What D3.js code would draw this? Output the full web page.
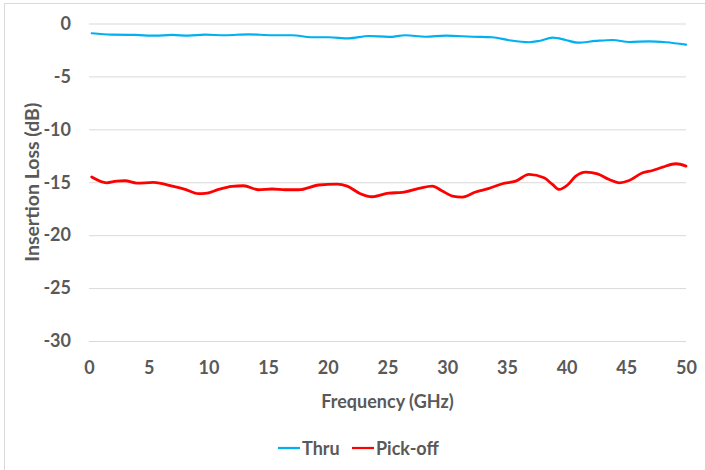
<!DOCTYPE html>
<html>
<head>
<meta charset="utf-8">
<script src="https://cdn.jsdelivr.net/npm/d3@7"></script>
<style>
  html, body { margin: 0; padding: 0; background: #fff; }
  svg { display: block; font-family: Lato, "Open Sans", sans-serif; font-weight: 700; }
</style>
</head>
<body>
<svg id="chart" width="705" height="470"></svg>
<script>
// Insertion loss vs frequency for the through path and the pick-off port
const thruFreq = [0.23, 1.9, 3.86, 5.54, 6.94, 8.33, 9.73, 11.41, 13.36, 15.33, 17.0, 18.68, 20.08, 21.75,
  23.43, 25.11, 26.51, 28.19, 29.87, 32.1, 33.78, 35.18, 36.85, 37.69, 38.82, 39.93, 40.91, 42.45,
  43.85, 45.24, 46.92, 48.32, 50.0];
const thruLoss = [-0.92, -1.06, -1.08, -1.15, -1.08, -1.15, -1.06, -1.11, -1.02, -1.11, -1.11, -1.30, -1.30, -1.40,
  -1.18, -1.27, -1.11, -1.25, -1.15, -1.25, -1.30, -1.58, -1.77, -1.65, -1.34, -1.56, -1.81, -1.65,
  -1.56, -1.75, -1.68, -1.77, -2.0];

const pickFreq = [0.23, 1.48, 2.32, 3.02, 4.0, 5.39, 7.07, 8.05, 9.17, 9.73, 10.85, 11.97, 12.94, 14.2,
  15.33, 16.44, 17.56, 19.24, 20.78, 21.62, 22.73, 23.72, 25.11, 26.23, 27.63, 28.75, 29.59, 30.43,
  31.27, 32.38, 33.5, 34.62, 35.74, 36.85, 38.11, 38.82, 39.37, 40.08, 40.77, 41.61, 42.59, 43.57,
  44.4, 45.24, 46.37, 47.2, 48.04, 49.16, 50.0];
const pickLoss = [-14.51, -15.05, -14.89, -14.86, -15.08, -15.02, -15.40, -15.68, -16.08, -16.06, -15.68, -15.40, -15.33, -15.71,
  -15.64, -15.71, -15.71, -15.26, -15.17, -15.36, -16.08, -16.37, -16.02, -15.96, -15.58, -15.36, -15.83, -16.30,
  -16.40, -15.92, -15.58, -15.14, -14.89, -14.26, -14.58, -15.21, -15.68, -15.26, -14.42, -14.04, -14.20, -14.74,
  -15.05, -14.83, -14.10, -13.89, -13.57, -13.25, -13.47];

const xTicks = [0, 5, 10, 15, 20, 25, 30, 35, 40, 45, 50];
const yTicks = [0, -5, -10, -15, -20, -25, -30];

const seriesNames = ["Thru", "Pick-off"];
const seriesColors = ["#00B0F0", "#FF0000"];

const svg = d3.select("#chart");
const W = 705, H = 470;
const plot = { left: 89, right: 686, top: 23.5, bottom: 341 };
const textColor = "#595959";
const tickFmt = d => String(d); // plain hyphen-minus

// outer chart frame (top and left edges)
svg.append("path")
  .attr("d", `M4.5,${H} V3.5 H${W}`)
  .attr("fill", "none").attr("stroke", "#D9D9D9").attr("stroke-width", 1);

const x = d3.scaleLinear().domain([0, 50]).range([plot.left, plot.right]);
const y = d3.scaleLinear().domain([-30, 0]).range([plot.bottom, plot.top]);

// horizontal gridlines + y tick labels
const yAxis = d3.axisLeft(y).tickValues(yTicks).tickSize(-(plot.right - plot.left)).tickPadding(18).tickFormat(tickFmt);
const gy = svg.append("g").attr("transform", `translate(${plot.left},0)`).call(yAxis);
gy.select(".domain").remove();
gy.selectAll(".tick line").attr("stroke", "#D9D9D9").attr("stroke-width", 1);
gy.selectAll(".tick text").attr("fill", textColor).style("font-size", "18px")
  .style("font-family", "Lato, sans-serif").style("font-weight", 700);

// x tick labels (no axis line)
const xAxis = d3.axisBottom(x).tickValues(xTicks).tickSize(0).tickPadding(20).tickFormat(tickFmt);
const gx = svg.append("g").attr("transform", `translate(0,${plot.bottom})`).call(xAxis);
gx.select(".domain").remove();
gx.selectAll(".tick text").attr("fill", textColor).style("font-size", "18px")
  .style("font-family", "Lato, sans-serif").style("font-weight", 700);

// axis titles
svg.append("text")
  .attr("x", (plot.left + plot.right) / 2).attr("y", 408)
  .attr("text-anchor", "middle").attr("fill", textColor).style("font-size", "18px")
  .text("Frequency (GHz)");
svg.append("text")
  .attr("transform", `translate(39,${(plot.top + plot.bottom) / 2}) rotate(-90)`)
  .attr("text-anchor", "middle").attr("fill", textColor).style("font-size", "19.5px")
  .text("Insertion Loss (dB)");

// series
const line = d3.line().x(d => x(d[0])).y(d => y(d[1])).curve(d3.curveMonotoneX);
const series = [
  { name: seriesNames[0], color: seriesColors[0], width: 2.2, pts: thruFreq.map((f, i) => [f, thruLoss[i]]) },
  { name: seriesNames[1], color: seriesColors[1], width: 2.8, pts: pickFreq.map((f, i) => [f, pickLoss[i]]) }
];
svg.append("g").selectAll("path").data(series).join("path")
  .attr("d", d => line(d.pts))
  .attr("fill", "none").attr("stroke", d => d.color).attr("stroke-width", d => d.width)
  .attr("stroke-linejoin", "round").attr("stroke-linecap", "round");

// legend
const legendX = [278, 352];
const lg = svg.append("g");
series.forEach((s, i) => {
  const g = lg.append("g").attr("transform", `translate(${legendX[i]},448)`);
  g.append("line").attr("x1", 0).attr("x2", 22).attr("y1", 0).attr("y2", 0)
    .attr("stroke", s.color).attr("stroke-width", 2.2);
  g.append("text").attr("x", 24).attr("y", 6.5).attr("fill", textColor).style("font-size", "18px").text(s.name);
});
</script>
</body>
</html>
